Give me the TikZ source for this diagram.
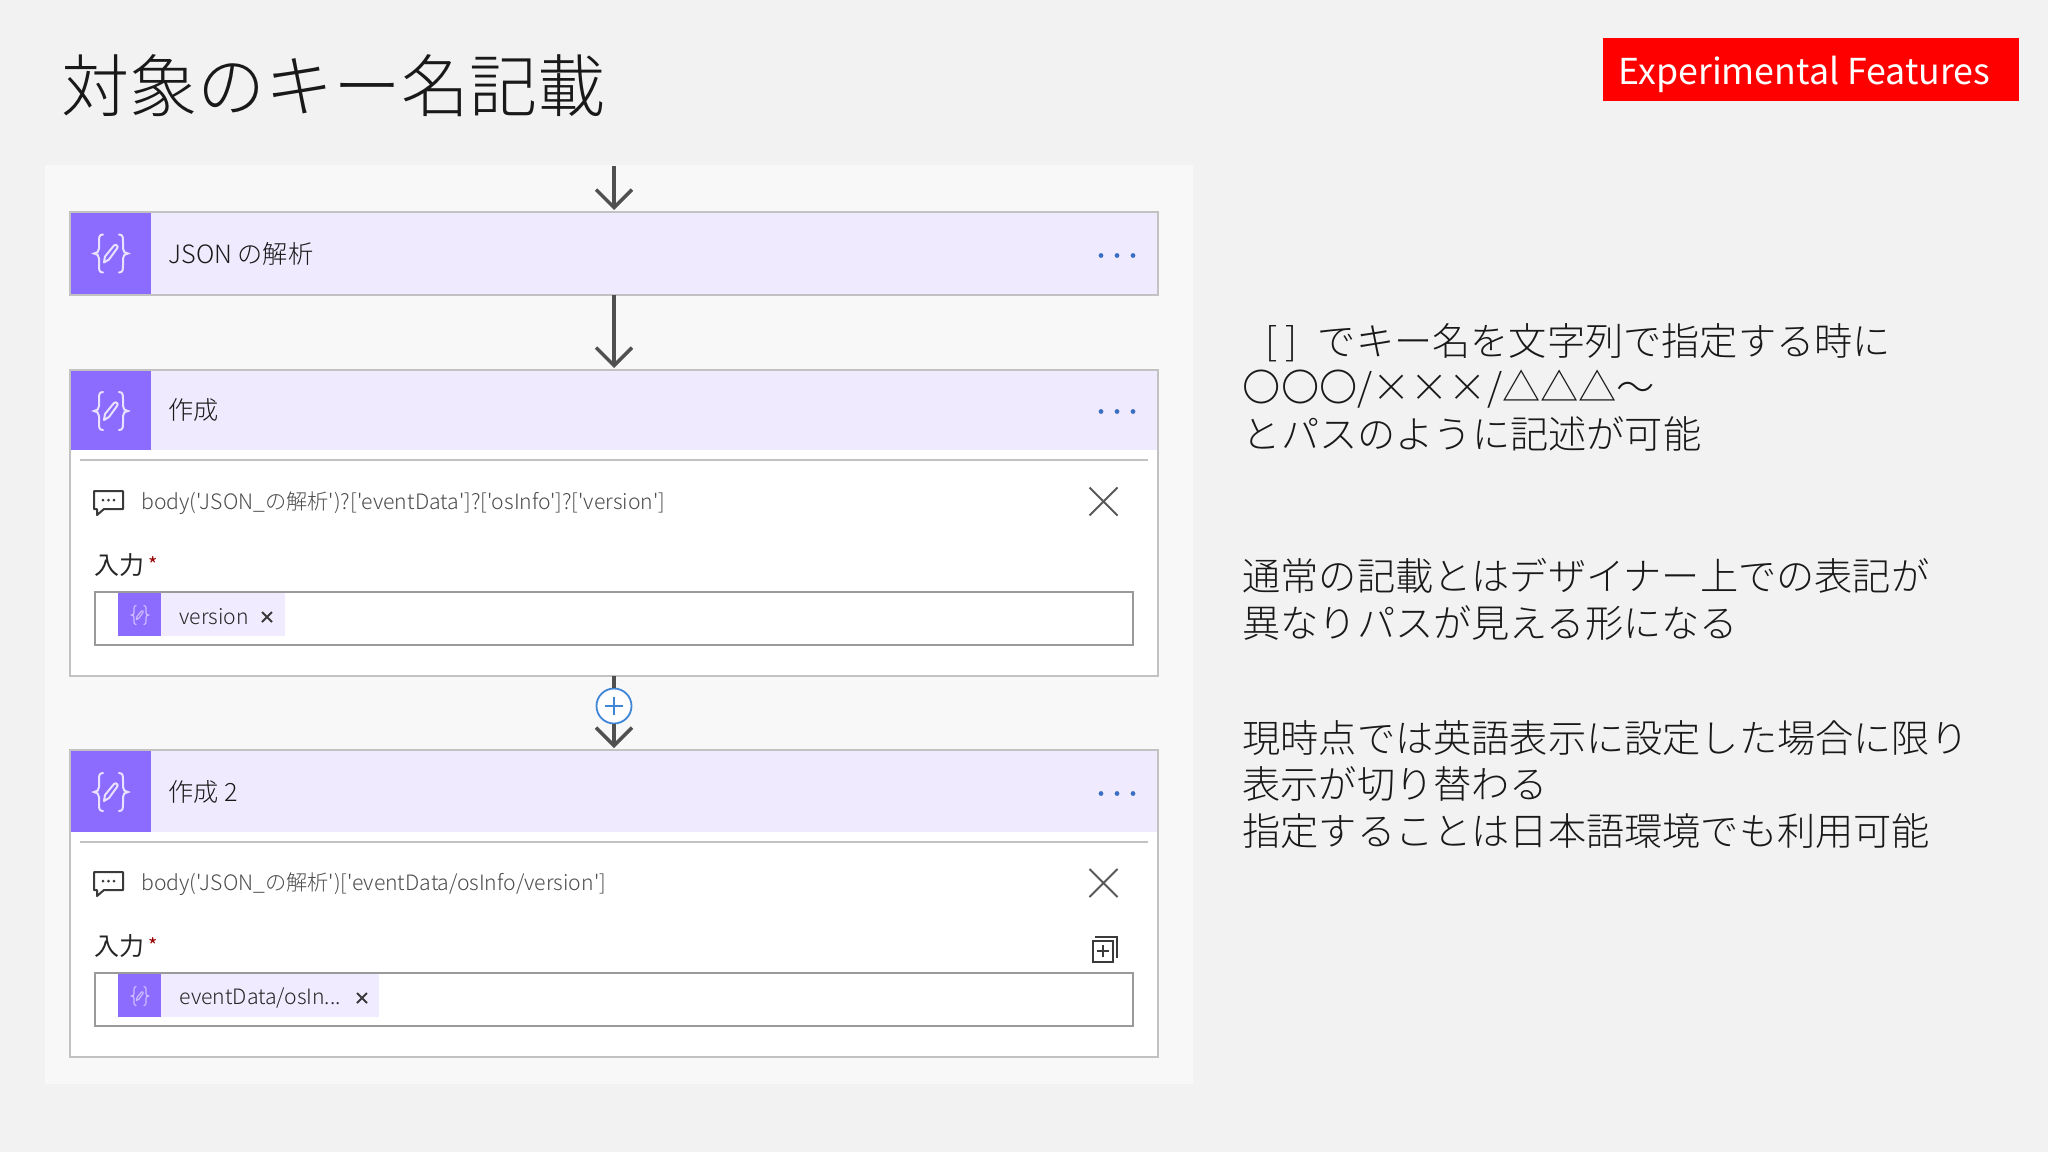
\documentclass[tikz,border=0pt]{standalone}
\usepackage{fontspec}
\setmainfont{Noto Sans CJK JP}
\newfontfamily\jpl{Noto Sans CJK JP Light}
\usetikzlibrary{arrows.meta}
\definecolor{pagebg}{HTML}{F2F2F2}
\definecolor{panelbg}{HTML}{F8F8F8}
\definecolor{iconviolet}{HTML}{8C6CFF}
\definecolor{headviolet}{HTML}{F0EAFE}
\definecolor{chipviolet}{HTML}{F0EBFE}
\definecolor{cardline}{HTML}{C2C2C2}
\definecolor{fieldline}{HTML}{9A9A9A}
\definecolor{flowgrey}{HTML}{505050}
\definecolor{dotblue}{HTML}{3B6FC4}
\definecolor{plusblue}{HTML}{3F86D8}
\definecolor{inkgrey}{HTML}{3A3A3A}
\definecolor{flagred}{HTML}{FF0000}
\newcommand{\mkbox}[6]{%
  \pgfmathsetmacro{\bw}{(#5-#3)*0.5}\pgfmathsetmacro{\bh}{(#6-#4)*0.5}%
  \pgfmathsetmacro{\bx}{(#3+#5)/2}\pgfmathsetmacro{\by}{(#4+#6)/2}%
  \node[#1,minimum width=\bw pt,minimum height=\bh pt] (#2) at (\bx,\by) {};}
\newcommand{\inputstar}{\hspace{1.8pt}\textcolor{red!60!black}{\raisebox{1pt}{\fontsize{10}{10}\selectfont *}}}
\tikzset{
  x=0.5pt,y=-0.5pt,
  plain/.style={inner sep=0pt,outer sep=0pt,rectangle},
  cardbox/.style={plain,draw=cardline,line width=1pt,fill=white},
  headband/.style={plain,fill=headviolet},
  iconcell/.style={plain,fill=iconviolet},
  fieldbox/.style={plain,draw=fieldline,line width=1.1pt,fill=white},
  chipband/.style={plain,fill=chipviolet},
  flow/.style={draw=flowgrey,line width=1.7pt,shorten >=1pt,-{Straight Barb[width=18pt,length=9pt,line width=1.7pt]}},
  flowplain/.style={draw=flowgrey,line width=1.7pt},
  rule/.style={draw=cardline,line width=0.8pt},
  cardtitle/.style={anchor=west,inner sep=0pt,font=\jpl\fontsize{12.6}{15}\selectfont,text=black!90},
  exprtext/.style={anchor=west,inner sep=0pt,font=\jpl\fontsize{10.6}{13}\selectfont,text=black!70},
  inputlabel/.style={anchor=west,inner sep=0pt,font=\fontsize{12.5}{15}\selectfont,text=black!85},
  note/.style={anchor=north west,inner sep=0pt,align=left,font=\jpl\fontsize{19.1}{23.25}\selectfont,text=black!90},
  pics/exprglyph/.style={code={
    \draw[line width=#1,line cap=round]
      (-8,-19) .. controls (-12,-19) and (-12,-16) .. (-12,-12) -- (-12,-5)
      .. controls (-12,-2) and (-14,0) .. (-17,0)
      .. controls (-14,0) and (-12,2) .. (-12,5) -- (-12,12)
      .. controls (-12,16) and (-12,19) .. (-8,19);
    \draw[line width=#1,line cap=round]
      (8,-19) .. controls (12,-19) and (12,-16) .. (12,-12) -- (12,-5)
      .. controls (12,-2) and (14,0) .. (17,0)
      .. controls (14,0) and (12,2) .. (12,5) -- (12,12)
      .. controls (12,16) and (12,19) .. (8,19);
    \draw[line width=#1,line join=round]
      (-7,9) -- (-6,3) -- (3,-8) .. controls (5,-10) and (8,-7) .. (6,-5) -- (-2,6) -- cycle;
  }},
  pics/crossmark/.style={code={
    \draw[line width=1pt,draw=inkgrey!85] (-14,-14) -- (14,14) (-14,14) -- (14,-14);
  }},
  pics/commentglyph/.style={code={
    \draw[draw=inkgrey,line width=1pt,line join=round]
      (0,0) -- (29,0) -- (29,18) -- (10,18) -- (3,24) -- (3,18) -- (0,18) -- cycle;
    \fill[inkgrey] (9,9) circle (1.5) (14.5,9) circle (1.5) (20,9) circle (1.5);
  }},
  pics/dotstrip/.style={code={
    \fill[dotblue] (-16,0) circle (2.4) (0,0) circle (2.4) (16,0) circle (2.4);
  }},
  pics/tinycross/.style={code={
    \draw[line width=1pt,draw=inkgrey] (-5,-5) -- (5,5) (-5,5) -- (5,-5);
  }}
}
\begin{document}
\begin{tikzpicture}
\useasboundingbox (0,0) rectangle (2048,1152);
\fill[pagebg] (0,0) rectangle (2048,1152);
\mkbox{plain,fill=panelbg}{panel}{45}{165}{1193}{1084}

% title and flag
\node[anchor=west,inner sep=0pt,font=\jpl\fontsize{34}{40}\selectfont,text=black!90] (title) at (61,85.5) {対象のキー名記載};
\mkbox{plain,fill=flagred}{flag}{1603}{38}{2019}{101}
\node[text=white,inner sep=0pt,font=\fontsize{17.85}{22}\selectfont] (flagtext) at (1804.5,74) {Experimental Features};

% cards
\mkbox{cardbox}{cardA}{70}{212}{1158}{295}
\mkbox{cardbox}{cardB}{70}{370}{1158}{676}
\mkbox{cardbox}{cardC}{70}{750}{1158}{1057}

% headers
\mkbox{headband}{bandA}{71}{213}{1157}{294}
\mkbox{iconcell}{cellA}{71}{213}{150.5}{294}
\mkbox{headband}{bandB}{71}{371}{1157}{450}
\mkbox{iconcell}{cellB}{71}{371}{150.5}{450}
\mkbox{headband}{bandC}{71}{751}{1157}{832}
\mkbox{iconcell}{cellC}{71}{751}{150.5}{832}
\pic[draw=white!80!iconviolet] at (111,253.5) {exprglyph=1pt};
\pic[draw=white!80!iconviolet] at (111,411) {exprglyph=1pt};
\pic[draw=white!80!iconviolet] at (111,792) {exprglyph=1pt};
\node[cardtitle] (titleA) at (168,254) {JSON の解析};
\node[cardtitle] (titleB) at (168,410) {作成};
\node[cardtitle] (titleC) at (168,792) {作成 2};
\pic at (1117,255.5) {dotstrip};
\pic at (1117,411.5) {dotstrip};
\pic at (1117,793.5) {dotstrip};

% connectors
\coordinate (entry) at (614,166);
\node[circle,draw=plusblue,line width=0.9pt,fill=white,inner sep=0pt,minimum size=17.5pt] (plus) at (614,706) {};
\draw[plusblue,line width=1pt] (605,706) -- (623,706) (614,697) -- (614,715);
\draw[flow] (entry) -- (cardA.north);
\draw[flow] (cardA.south) -- (cardB.north);
\draw[flowplain] (cardB.south) -- (plus.north);
\draw[flow] (plus.south) -- (cardC.north);

% card B body
\draw[rule] (80,460) -- (1148,460);
\pic at (94,491) {commentglyph};
\node[exprtext] (exprB) at (141,503) {body('JSON\_の解析')?['eventData']?['osInfo']?['version']};
\pic at (1103.5,501.5) {crossmark};
\node[inputlabel] (inputB) at (94,565) {入力\inputstar};
\mkbox{fieldbox}{fieldB}{95}{592}{1133}{645}
\mkbox{chipband}{chipB}{118}{593}{285}{636}
\mkbox{iconcell}{cellB2}{118}{593}{161}{636}
\pic[draw=white!55!iconviolet,scale=0.5] at (140,615) {exprglyph=0.6pt};
\node[exprtext,text=black!85] (chipBtext) at (179,617) {version};
\pic at (267,617) {tinycross};

% card C body
\draw[rule] (80,842) -- (1148,842);
\pic at (94,872) {commentglyph};
\node[exprtext] (exprC) at (141,884) {body('JSON\_の解析')['eventData/osInfo/version']};
\pic at (1103.5,883) {crossmark};
\node[inputlabel] (inputC) at (94,946) {入力\inputstar};
\draw[inkgrey,line width=1pt] (1093,941) rectangle (1113,962);
\draw[inkgrey,line width=1pt] (1095,937) -- (1117,937) -- (1117,958);
\draw[inkgrey,line width=0.8pt] (1097,951) -- (1109,951) (1103,945) -- (1103,957);
\mkbox{fieldbox}{fieldC}{95}{973}{1133}{1026}
\mkbox{chipband}{chipC}{118}{974}{379}{1017}
\mkbox{iconcell}{cellC2}{118}{974}{161}{1017}
\pic[draw=white!55!iconviolet,scale=0.5] at (140,996) {exprglyph=0.6pt};
\node[exprtext,text=black!85] (chipCtext) at (179,998) {eventData/osIn...};
\pic at (362,998) {tinycross};

% notes
\node[note] (noteA) at (1242.5,323) {\hspace*{11.5pt}[\hspace{4pt}]\hspace{10pt}でキー名を文字列で指定する時に\\〇〇〇/×××/△△△～\\とパスのように記述が可能};
\node[note] (noteB) at (1242,558) {通常の記載とはデザイナー上での表記が\\異なりパスが見える形になる};
\node[note] (noteC) at (1242,720) {現時点では英語表示に設定した場合に限り\\表示が切り替わる\\指定することは日本語環境でも利用可能};
\end{tikzpicture}
\end{document}
